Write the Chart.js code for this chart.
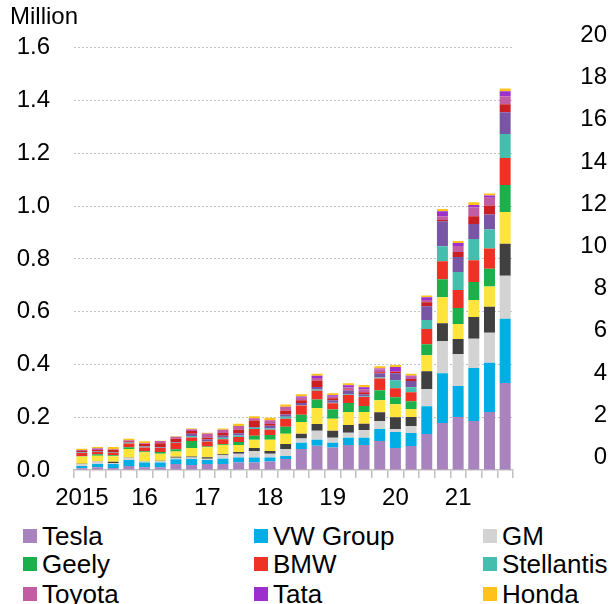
<!DOCTYPE html>
<html>
<head>
<meta charset="utf-8">
<title>EV Absatz nach Hersteller</title>
<script src="https://cdn.jsdelivr.net/npm/chart.js@4.4.1/dist/chart.umd.min.js"></script>
<style>
    html, body { margin: 0; padding: 0; background: #fff; overflow: hidden; }
    #wrap { position: relative; width: 610px; height: 604px; }
    #chart { position: absolute; left: 0; top: 0; }
    .legend-item {
        position: absolute; display: flex; align-items: center; height: 28px;
        white-space: nowrap; font-family: 'Liberation Sans', Arial, sans-serif;
        font-size: 26px; color: #000;
    }
    .legend-box { width: 14px; height: 14px; margin-right: 5px; flex: none; }
</style>
</head>
<body>
<div id="wrap">
    <canvas id="chart" width="610" height="520"></canvas>
    <div id="legend"></div>
</div>
<script>
// --- Daten (Mio. Fahrzeuge pro Quartal, 2015 Q1 bis 2021 Q4) ---
const quarterLabels = [
    '2015', '', '', '', '16', '', '', '', '17', '', '', '', '18', '', '', '',
    '19', '', '', '', '20', '', '', '', '21', '', '', ''
];

const tesla     = [0.007, 0.010, 0.008, 0.015, 0.010, 0.010, 0.023, 0.019, 0.023, 0.023, 0.028, 0.028, 0.032, 0.042, 0.080, 0.092, 0.085, 0.095, 0.095, 0.110, 0.083, 0.091, 0.136, 0.178, 0.201, 0.186, 0.220, 0.330];
const vwGroup   = [0.008, 0.013, 0.015, 0.023, 0.018, 0.018, 0.018, 0.023, 0.015, 0.020, 0.019, 0.019, 0.015, 0.011, 0.023, 0.023, 0.018, 0.027, 0.027, 0.045, 0.061, 0.049, 0.106, 0.189, 0.117, 0.201, 0.186, 0.243];
const gm        = [0.007, 0.009, 0.004, 0.008, 0.004, 0.006, 0.005, 0.005, 0.005, 0.013, 0.015, 0.025, 0.015, 0.027, 0.016, 0.034, 0.019, 0.019, 0.030, 0.030, 0.011, 0.027, 0.064, 0.121, 0.121, 0.110, 0.114, 0.163];
const hyundai   = [0.002, 0.001, 0.004, 0.001, 0.001, 0.001, 0.004, 0.004, 0.005, 0.004, 0.006, 0.011, 0.010, 0.019, 0.018, 0.025, 0.027, 0.030, 0.023, 0.034, 0.045, 0.034, 0.068, 0.068, 0.057, 0.083, 0.099, 0.121];
const byd       = [0.027, 0.021, 0.021, 0.033, 0.034, 0.027, 0.020, 0.032, 0.038, 0.035, 0.027, 0.032, 0.043, 0.038, 0.045, 0.061, 0.045, 0.049, 0.045, 0.045, 0.049, 0.030, 0.061, 0.099, 0.057, 0.064, 0.076, 0.121];
const geely     = [0.002, 0.006, 0.004, 0.006, 0.004, 0.006, 0.009, 0.027, 0.003, 0.003, 0.011, 0.015, 0.018, 0.027, 0.027, 0.032, 0.035, 0.034, 0.023, 0.038, 0.027, 0.030, 0.042, 0.068, 0.061, 0.068, 0.068, 0.102];
const bmw       = [0.011, 0.008, 0.008, 0.014, 0.014, 0.015, 0.023, 0.013, 0.019, 0.019, 0.019, 0.025, 0.020, 0.030, 0.035, 0.033, 0.024, 0.030, 0.034, 0.045, 0.034, 0.034, 0.057, 0.068, 0.068, 0.083, 0.076, 0.102];
const stellantis = [0.002, 0.001, 0.001, 0.003, 0.003, 0.001, 0.001, 0.006, 0.002, 0.005, 0.006, 0.005, 0.004, 0.008, 0.002, 0.005, 0.002, 0.002, 0.002, 0.004, 0.030, 0.019, 0.034, 0.057, 0.068, 0.080, 0.072, 0.091];
const renault   = [0.002, 0.002, 0.001, 0.002, 0.002, 0.002, 0.002, 0.008, 0.006, 0.008, 0.008, 0.003, 0.011, 0.008, 0.008, 0.010, 0.009, 0.015, 0.008, 0.015, 0.027, 0.023, 0.053, 0.095, 0.057, 0.057, 0.057, 0.083];
const daimler   = [0.004, 0.005, 0.011, 0.004, 0.009, 0.015, 0.013, 0.011, 0.006, 0.010, 0.014, 0.025, 0.006, 0.015, 0.010, 0.024, 0.008, 0.004, 0.008, 0.004, 0.004, 0.008, 0.015, 0.004, 0.019, 0.030, 0.034, 0.030];
const toyota    = [0.004, 0.006, 0.002, 0.004, 0.002, 0.009, 0.008, 0.006, 0.016, 0.013, 0.014, 0.008, 0.015, 0.015, 0.010, 0.010, 0.006, 0.008, 0.011, 0.011, 0.004, 0.008, 0.008, 0.015, 0.023, 0.034, 0.030, 0.030];
const tata      = [0, 0, 0, 0, 0, 0, 0, 0, 0, 0, 0, 0, 0, 0, 0.005, 0.008, 0.005, 0.008, 0.008, 0.004, 0.015, 0.004, 0.011, 0.019, 0.011, 0.008, 0.008, 0.019];
const honda     = [0.005, 0.005, 0.008, 0.005, 0.008, 0.001, 0.002, 0.003, 0.003, 0.004, 0.008, 0.008, 0.009, 0.008, 0.008, 0.008, 0.008, 0.008, 0.008, 0.008, 0.008, 0.008, 0.006, 0.008, 0.008, 0.011, 0.008, 0.011];

// Reihenfolge im Stapel (von unten nach oben)
const series = [
    { label: 'Tesla',          data: tesla,      color: '#a883bd' },
    { label: 'VW Group',       data: vwGroup,    color: '#00aee6' },
    { label: 'GM',             data: gm,         color: '#d3d3d3' },
    { label: 'Hyundai',        data: hyundai,    color: '#404040' },
    { label: 'BYD',            data: byd,        color: '#ffe53b' },
    { label: 'Geely',          data: geely,      color: '#1cb04c' },
    { label: 'BMW',            data: bmw,        color: '#ee3124' },
    { label: 'Stellantis',     data: stellantis, color: '#44bfad' },
    { label: 'Renault-Nissan', data: renault,    color: '#7955a5' },
    { label: 'Daimler',        data: daimler,    color: '#cb1f24' },
    { label: 'Toyota',         data: toyota,     color: '#c25ca3' },
    { label: 'Tata',           data: tata,       color: '#9b30cf' },
    { label: 'Honda',          data: honda,      color: '#ffc21a' }
];

// Legende (3 Spalten, sichtbare Einträge)
const legendOrder = ['Tesla', 'VW Group', 'GM', 'Geely', 'BMW', 'Stellantis', 'Toyota', 'Tata', 'Honda'];
const legendColumnsX = [23, 254, 483];
const legendRowsY = [536, 564, 594];

Chart.defaults.font.family = "'Liberation Sans', Arial, sans-serif";
Chart.defaults.font.size = 24;
Chart.defaults.color = '#000';

const ctx = document.getElementById('chart').getContext('2d');

const chart = new Chart(ctx, {
    type: 'bar',
    data: {
        labels: quarterLabels,
        datasets: series.map(s => ({
            label: s.label,
            data: s.data,
            backgroundColor: s.color,
            borderWidth: 0,
            barPercentage: 0.7,
            categoryPercentage: 1.0,
            yAxisID: 'y'
        }))
    },
    options: {
        responsive: false,
        animation: false,
        devicePixelRatio: 1,
        layout: { padding: { left: 10, right: 3, top: 0, bottom: 0 } },
        plugins: {
            legend: { display: false },
            tooltip: { enabled: false },
            title: {
                display: true,
                text: 'Million',
                align: 'start',
                color: '#000',
                font: { size: 24, weight: 'normal' },
                padding: { top: 3, bottom: 16 }
            }
        },
        scales: {
            x: {
                stacked: true,
                grid: {
                    display: true,
                    drawOnChartArea: false,
                    drawTicks: true,
                    tickLength: 8,
                    offset: true,
                    color: '#bfbfbf',
                    lineWidth: 1.5
                },
                border: { display: true, color: '#bfbfbf', width: 1.5 },
                ticks: { autoSkip: false, maxRotation: 0, minRotation: 0, padding: 6 },
                afterFit: scale => { scale.height = 50; }
            },
            y: {
                stacked: true,
                position: 'left',
                min: 0,
                max: 1.6,
                ticks: {
                    stepSize: 0.2,
                    padding: 24,
                    callback: value => Number(value).toFixed(1)
                },
                grid: {
                    drawTicks: false,
                    lineWidth: 1,
                    color: c => (c.tick && c.tick.value === 0) ? 'rgba(0,0,0,0)' : '#c4c4c4'
                },
                border: { display: false, dash: [2, 2] },
                afterFit: scale => { scale.width = 64; }
            },
            y2: {
                position: 'right',
                min: 0,
                max: 20,
                ticks: { stepSize: 2, labelOffset: -12.5, crossAlign: 'far', padding: 0 },
                grid: { drawOnChartArea: false, drawTicks: false },
                border: { display: false },
                afterFit: scale => { scale.width = 94; }
            }
        }
    }
});

// --- HTML-Legende aufbauen ---
function buildLegend() {
    const legendEl = document.getElementById('legend');
    legendOrder.forEach((name, index) => {
        const ds = chart.data.datasets.find(d => d.label === name);
        if (!ds) return;
        const item = document.createElement('div');
        item.className = 'legend-item';
        item.style.left = legendColumnsX[index % 3] + 'px';
        item.style.top = (legendRowsY[Math.floor(index / 3)] - 14) + 'px';
        item.innerHTML = `<span class="legend-box" style="background:${ds.backgroundColor}"></span><span>${name}</span>`;
        legendEl.appendChild(item);
    });
}

buildLegend();
</script>
</body>
</html>
